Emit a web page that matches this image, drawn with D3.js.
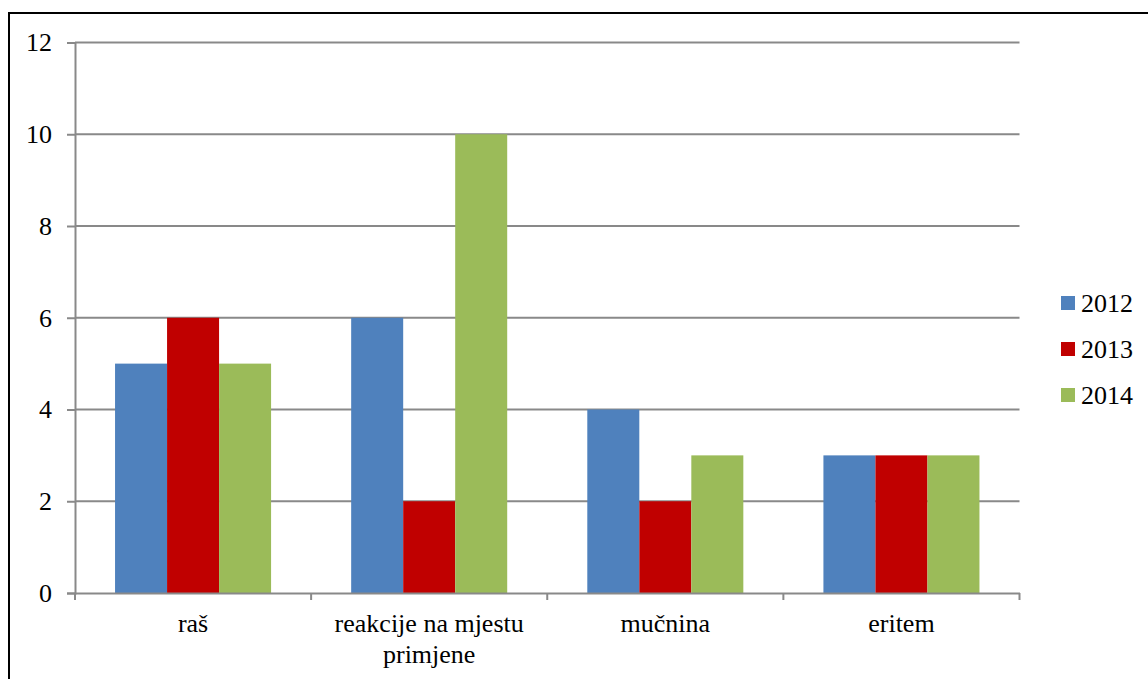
<!DOCTYPE html>
<html>
<head>
<meta charset="utf-8">
<script src="https://cdn.jsdelivr.net/npm/d3@7"></script>
</head>
<body style="margin:0">
<svg id="chart" width="1148" height="679" font-family="Liberation Serif"></svg>
<script>
// Categories (two-line labels split on "\n")
const categories = ["raš", "reakcije na mjestu\nprimjene", "mučnina", "eritem"];
const seriesNames = ["2012", "2013", "2014"];
const values2012 = [5, 6, 4, 3];
const values2013 = [6, 2, 2, 3];
const values2014 = [5, 10, 3, 3];
const seriesColors = ["#4F81BD", "#C00000", "#9BBB59"];
const yTicks = [0, 2, 4, 6, 8, 10, 12];

const seriesValues = [values2012, values2013, values2014];
const serif = "Liberation Serif";
const fontSize = "26px";

const svg = d3.select("#chart");

// outer frame
svg.append("rect")
  .attr("x", 9).attr("y", 13)
  .attr("width", 1200).attr("height", 700)
  .attr("fill", "none").attr("stroke", "#000").attr("stroke-width", 2);

const plot = { left: 75, right: 1019.5, top: 42.5, bottom: 593 };
const gridColor = "#898989";

const x = d3.scaleBand()
  .domain(categories)
  .range([plot.left, plot.right])
  .paddingInner(0).paddingOuter(0);

const xs = d3.scaleBand()
  .domain(seriesNames)
  .range([0, x.bandwidth()])
  .paddingInner(0)
  .paddingOuter(0.77);

const y = d3.scaleLinear().domain([0, 12]).range([plot.bottom, plot.top]);

// horizontal gridlines
svg.append("g")
  .selectAll("line")
  .data(yTicks.filter(d => d > 0))
  .join("line")
  .attr("x1", plot.left).attr("x2", plot.right)
  .attr("y1", d => y(d)).attr("y2", d => y(d))
  .attr("stroke", gridColor).attr("stroke-width", 2);

// bars
const groups = svg.append("g")
  .selectAll("g")
  .data(categories.map((c, i) => ({ c, i })))
  .join("g")
  .attr("transform", d => `translate(${x(d.c)},0)`);

groups.selectAll("rect")
  .data(d => seriesNames.map((s, k) => ({ s, k, v: seriesValues[k][d.i] })))
  .join("rect")
  .attr("x", d => xs(d.s))
  .attr("width", xs.bandwidth())
  .attr("y", d => y(d.v))
  .attr("height", d => y(0) - y(d.v))
  .attr("fill", d => seriesColors[d.k]);

// y axis
const yAxis = d3.axisLeft(y).tickValues(yTicks).tickSize(8).tickPadding(15).tickFormat(d3.format("d"));
const yG = svg.append("g").attr("transform", `translate(${plot.left},0)`).call(yAxis)
  .attr("font-family", serif).attr("font-size", 26);
yG.select(".domain").attr("stroke", gridColor).attr("stroke-width", 2);
yG.selectAll(".tick line").attr("stroke", gridColor).attr("stroke-width", 2);
yG.selectAll(".tick text")
  .attr("fill", "#000")
  .attr("font-family", serif)
  .style("font-family", serif)
  .style("font-size", fontSize);

// x axis
const xAxis = d3.axisBottom(x).tickSize(0).tickFormat("");
const xG = svg.append("g").attr("transform", `translate(0,${plot.bottom})`).call(xAxis);
xG.select(".domain").attr("stroke", gridColor).attr("stroke-width", 2);

// category separator ticks
const bounds = categories.map(c => x(c)).concat([plot.right]);
svg.append("g")
  .selectAll("line")
  .data(bounds)
  .join("line")
  .attr("x1", d => d).attr("x2", d => d)
  .attr("y1", plot.bottom).attr("y2", plot.bottom + 7)
  .attr("stroke", gridColor).attr("stroke-width", 2);

// category labels
const labels = svg.append("g")
  .selectAll("text")
  .data(categories)
  .join("text")
  .attr("x", d => x(d) + x.bandwidth() / 2)
  .attr("y", 632)
  .attr("text-anchor", "middle")
  .attr("fill", "#000")
  .attr("font-family", serif)
  .style("font-family", serif)
  .style("font-size", fontSize);

labels.selectAll("tspan")
  .data(d => d.split("\n"))
  .join("tspan")
  .attr("x", function () { return d3.select(this.parentNode).attr("x"); })
  .attr("dy", (d, i) => i === 0 ? 0 : 31)
  .text(d => d);

// legend
const legend = svg.append("g")
  .selectAll("g")
  .data(seriesNames)
  .join("g")
  .attr("transform", (d, i) => `translate(1061,${303 + i * 46})`);

legend.append("rect")
  .attr("x", 0).attr("y", -7)
  .attr("width", 14).attr("height", 14)
  .attr("fill", (d, i) => seriesColors[i]);

legend.append("text")
  .attr("x", 20).attr("y", 9)
  .attr("fill", "#000")
  .attr("font-family", serif)
  .style("font-family", serif)
  .style("font-size", fontSize)
  .text(d => d);
</script>
</body>
</html>
